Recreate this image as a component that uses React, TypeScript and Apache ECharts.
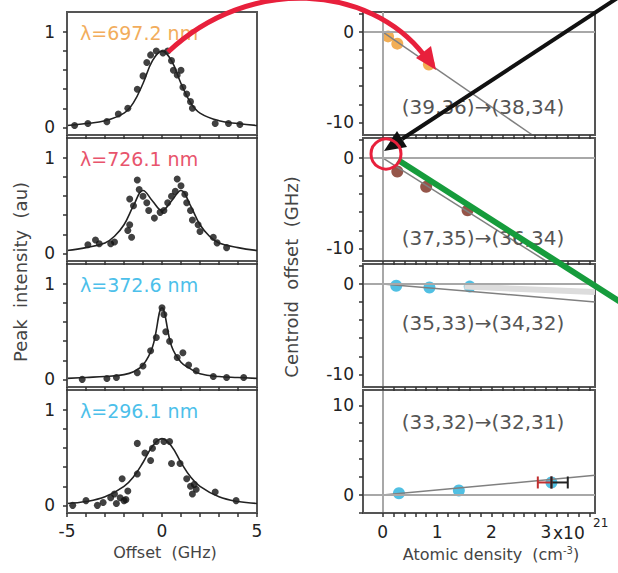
import React, { useEffect, useRef } from "react";
import * as echarts from "echarts";

// ---------- tick labels ----------
const offsetTicks = [-5, 0, 5];
const offsetMinorTicks = [-4, -3, -2, -1, 1, 2, 3, 4];
const intensityTicks = [0, 1];
const intensityMinorTicks = [0.2, 0.4, 0.6, 0.8];
const densityTicks = [0, 1, 2, 3];
const densityMinorTicks = [0.2, 0.4, 0.6, 0.8, 1.2, 1.4, 1.6, 1.8, 2.2, 2.4, 2.6, 2.8, 3.2, 3.4, 3.6, 3.8];
const centroidTicksNeg = [-10, 0];
const centroidTicksPos = [0, 10];
const centroidMinorNeg = [-8, -6, -4, -2, 2];
const centroidMinorPos = [-2, 2, 4, 6, 8];

// ---------- labels ----------
const lambdaLabels = ["λ=697.2 nm", "λ=726.1 nm", "λ=372.6 nm", "λ=296.1 nm"];
const lambdaColors = ["#f2ad5c", "#e8546c", "#4cc0ea", "#4cc0ea"];
const transitionLabels = ["(39,36)→(38,34)", "(37,35)→(36,34)", "(35,33)→(34,32)", "(33,32)→(32,31)"];

// ---------- left column: peak intensity vs offset ----------
const peak1Points = [[-4.6, 0.02], [-3.9, 0.04], [-2.9, 0.06], [-2.3, 0.14], [-1.8, 0.2], [-1.3, 0.4], [-1.0, 0.54], [-0.8, 0.68], [-0.6, 0.76], [-0.3, 0.8], [0.05, 0.78], [0.3, 0.8], [0.5, 0.7], [0.6, 0.6], [0.8, 0.55], [1.0, 0.6], [1.1, 0.42], [1.3, 0.35], [1.5, 0.27], [1.6, 0.2], [2.8, 0.04], [3.5, 0.04], [4.1, 0.03]];
const peak1Fit = [[-5, 0.02], [-4, 0.04], [-3, 0.07], [-2, 0.15], [-1.5, 0.26], [-1, 0.46], [-0.5, 0.7], [0, 0.8], [0.5, 0.7], [1, 0.46], [1.5, 0.26], [2, 0.15], [3, 0.07], [4, 0.04], [5, 0.02]];

const peak2Points = [[-3.9, 0.09], [-3.5, 0.14], [-3.3, 0.1], [-2.7, 0.1], [-2.5, 0.12], [-1.8, 0.24], [-1.7, 0.3], [-1.6, 0.17], [-1.7, 0.57], [-1.5, 0.5], [-1.3, 0.77], [-1.2, 0.67], [-1.0, 0.6], [-0.8, 0.53], [-0.7, 0.45], [-0.4, 0.37], [-0.1, 0.43], [0.1, 0.45], [0.3, 0.53], [0.5, 0.6], [0.7, 0.65], [0.8, 0.78], [1.0, 0.71], [1.2, 0.62], [1.3, 0.53], [1.5, 0.45], [1.6, 0.35], [1.9, 0.3], [2.0, 0.23], [2.7, 0.17], [2.9, 0.11], [3.4, 0.06]];
const peak2Fit = [[-5, 0.03], [-4, 0.06], [-3, 0.11], [-2.5, 0.18], [-2, 0.3], [-1.5, 0.5], [-1, 0.66], [-0.5, 0.55], [0, 0.45], [0.5, 0.55], [1, 0.66], [1.5, 0.5], [2, 0.3], [2.5, 0.18], [3, 0.11], [4, 0.06], [5, 0.03]];

const peak3Points = [[-4.2, 0.0], [-2.9, 0.01], [-2.4, 0.02], [-1.3, 0.07], [-1.0, 0.14], [-0.6, 0.3], [-0.3, 0.44], [0, 0.75], [0.1, 0.68], [0.2, 0.5], [0.4, 0.4], [0.8, 0.23], [1.1, 0.28], [1.4, 0.15], [1.8, 0.09], [2.7, 0.03], [3.4, 0.02], [4.3, 0.02]];
const peak3Fit = [[-5, 0.01], [-4, 0.02], [-3, 0.03], [-2, 0.05], [-1.5, 0.08], [-1, 0.15], [-0.5, 0.34], [0, 0.75], [0.5, 0.35], [1, 0.18], [1.5, 0.11], [2, 0.06], [3, 0.03], [4, 0.02], [5, 0.01]];

const peak4Points = [[-4.7, 0.0], [-4.0, 0.05], [-3.4, 0.0], [-3.1, 0.03], [-2.7, 0.08], [-2.5, 0.12], [-2.4, 0.02], [-2.2, 0.08], [-2.1, 0.28], [-2.0, 0.05], [-1.9, 0.06], [-1.8, 0.15], [-1.3, 0.33], [-1.3, 0.65], [-0.9, 0.55], [-0.6, 0.47], [-0.5, 0.6], [-0.3, 0.67], [0.1, 0.67], [0.4, 0.67], [0.5, 0.44], [0.95, 0.44], [1.3, 0.28], [1.5, 0.2], [1.6, 0.12], [1.7, 0.22], [1.8, 0.17], [2.8, 0.14], [3.9, 0.05]];
const peak4Fit = [[-5, 0.02], [-4, 0.04], [-3, 0.09], [-2, 0.2], [-1.5, 0.3], [-1, 0.45], [-0.5, 0.62], [0, 0.7], [0.5, 0.62], [1, 0.45], [1.5, 0.3], [2, 0.2], [3, 0.09], [4, 0.04], [5, 0.02]];

// ---------- right column: centroid offset vs atomic density ----------
const shift1Points = [[0.1, -0.5], [0.27, -1.3], [0.85, -3.6]];
const shift1Fit = [[0, 0], [2.75, -11.4]];
const shift2Points = [[0.27, -1.5], [0.8, -3.2], [1.56, -5.8]];
const shift2Fit = [[0, 0], [3.0, -11.4]];
const shift3Points = [[0.25, -0.2], [0.86, -0.4], [1.6, -0.3]];
const shift3Fit = [[0, 0], [3.9, -2.0]];
const shift3Band = [[1.5, -0.3], [3.9, -0.9]];
const shift4Points = [[0.3, 0.2], [1.4, 0.5], [3.1, 1.4]];
const shift4Fit = [[0, 0], [3.9, 2.2]];
const shift4ErrRed = [[2.85, 1.4], [3.1, 1.4]];
const shift4ErrBlack = [[3.1, 1.4], [3.4, 1.4]];
const shiftColors = ["#ef9a2a", "#7a2a1c", "#26b0dc", "#26b0dc"];

const FONT = "DejaVu Sans, Verdana, sans-serif";
const TOPS = [12, 138, 264, 390];
const H = 123;

function App() {
  const ref = useRef<HTMLDivElement>(null);
  useEffect(() => {
    if (!ref.current) return;
    const chart = echarts.init(ref.current, null, { renderer: "svg" });

    const grids: any[] = [];
    const xAxes: any[] = [];
    const yAxes: any[] = [];
    const series: any[] = [];

    const tickStyle = { show: true, inside: false, length: 4, lineStyle: { color: "#333", width: 1.5 } };
    const labelStyle = { fontFamily: FONT, fontSize: 17, color: "#222" };
    const frameLine = { show: true, onZero: false, lineStyle: { color: "#555", width: 2 } };

    const peakPts = [peak1Points, peak2Points, peak3Points, peak4Points];
    const peakFits = [peak1Fit, peak2Fit, peak3Fit, peak4Fit];
    const shiftPts = [shift1Points, shift2Points, shift3Points, shift4Points];
    const shiftFits = [shift1Fit, shift2Fit, shift3Fit, shift4Fit];

    // left column
    for (let i = 0; i < 4; i++) {
      const gi = grids.length;
      grids.push({ left: 67, top: TOPS[i], width: 190, height: H, show: true, borderColor: "#555", borderWidth: 2 });
      xAxes.push({
        type: "value", gridIndex: gi, min: -5, max: 5, position: "bottom", z: 10,
        axisLine: frameLine, splitLine: { show: false },
        axisTick: { ...tickStyle, customValues: [...offsetTicks, ...offsetMinorTicks] },
        axisLabel: { show: i === 3, customValues: offsetTicks, margin: 9, ...labelStyle },
      });
      yAxes.push({
        type: "value", gridIndex: gi, min: -0.08, max: 1.21, position: "left", z: 10,
        axisLine: frameLine, splitLine: { show: false },
        axisTick: { ...tickStyle, customValues: [...intensityTicks, ...intensityMinorTicks] },
        axisLabel: { customValues: intensityTicks, margin: 12, ...labelStyle },
      });
      series.push({
        type: "line", xAxisIndex: gi, yAxisIndex: gi, data: peakFits[i], smooth: 0.4,
        showSymbol: false, lineStyle: { color: "#222", width: 1.6 }, silent: true,
      });
      series.push({
        type: "scatter", xAxisIndex: gi, yAxisIndex: gi, data: peakPts[i],
        symbolSize: 7, itemStyle: { color: "#111" },
      });
    }

    // right column
    for (let i = 0; i < 4; i++) {
      const gi = grids.length;
      const pos = i === 3;
      grids.push({ left: 363, top: TOPS[i], width: 232, height: H, show: true, borderColor: "#555", borderWidth: 2 });
      xAxes.push({
        type: "value", gridIndex: gi, min: -0.36, max: 3.9, position: "bottom", z: 10,
        axisLine: frameLine, splitLine: { show: false },
        axisTick: { ...tickStyle, customValues: [...densityTicks, ...densityMinorTicks] },
        axisLabel: { show: i === 3, customValues: densityTicks, margin: 10, ...labelStyle },
      });
      yAxes.push({
        type: "value", gridIndex: gi, min: pos ? -2 : -11.4, max: pos ? 11.7 : 2.2, position: "left", z: 10,
        axisLine: frameLine, splitLine: { show: false },
        axisTick: { ...tickStyle, customValues: pos ? [...centroidTicksPos, ...centroidMinorPos] : [...centroidTicksNeg, ...centroidMinorNeg] },
        axisLabel: { customValues: pos ? centroidTicksPos : centroidTicksNeg, margin: 9, ...labelStyle },
      });
      if (i === 2) {
        series.push({
          type: "line", xAxisIndex: gi, yAxisIndex: gi, data: shift3Band,
          showSymbol: false, lineStyle: { color: "#dcdcdc", width: 6 }, silent: true,
        });
      }
      series.push({
        type: "line", xAxisIndex: gi, yAxisIndex: gi, data: shiftFits[i],
        showSymbol: false, lineStyle: { color: "#808080", width: 1.5 }, silent: true,
        markLine: {
          silent: true, symbol: "none", label: { show: false },
          lineStyle: { color: "#a8a8a8", width: 2, type: "solid" },
          data: [{ yAxis: 0 }, { xAxis: 0 }],
        },
      });
      if (i === 3) {
        series.push({
          type: "line", xAxisIndex: gi, yAxisIndex: gi, data: shift4ErrRed,
          symbol: "rect", symbolSize: [2, 12], showSymbol: true,
          lineStyle: { color: "#c03030", width: 2 }, itemStyle: { color: "#c03030" }, silent: true,
        });
        series.push({
          type: "line", xAxisIndex: gi, yAxisIndex: gi, data: shift4ErrBlack,
          symbol: "rect", symbolSize: [2, 12], showSymbol: true,
          lineStyle: { color: "#222", width: 2 }, itemStyle: { color: "#222" }, silent: true,
        });
      }
      series.push({
        type: "scatter", xAxisIndex: gi, yAxisIndex: gi, data: shiftPts[i],
        symbolSize: 12, itemStyle: { color: shiftColors[i] },
      });
    }

    const graphic: any[] = [];
    for (let i = 0; i < 4; i++) {
      graphic.push({
        type: "text", x: 80, y: TOPS[i] + 21, z: 50,
        style: { text: lambdaLabels[i], fill: lambdaColors[i], font: `19px ${FONT}`, textAlign: "left", textVerticalAlign: "middle" },
      });
      graphic.push({
        type: "text", x: 483, y: [107, 238, 323, 422][i], z: 50,
        style: { text: transitionLabels[i], fill: "#555", font: `20px ${FONT}`, textAlign: "center", textVerticalAlign: "middle" },
      });
    }
    graphic.push({
      type: "text", x: 20, y: 272, rotation: Math.PI / 2, z: 50,
      style: { text: "Peak  intensity  (au)", fill: "#444", font: `18px ${FONT}`, textAlign: "center", textVerticalAlign: "middle" },
    });
    graphic.push({
      type: "text", x: 291, y: 277, rotation: Math.PI / 2, z: 50,
      style: { text: "Centroid  offset  (GHz)", fill: "#444", font: `18px ${FONT}`, textAlign: "center", textVerticalAlign: "middle" },
    });
    graphic.push({
      type: "text", x: 165, y: 552, z: 50,
      style: { text: "Offset  (GHz)", fill: "#444", font: `16px ${FONT}`, textAlign: "center", textVerticalAlign: "middle" },
    });
    graphic.push({
      type: "text", x: 491, y: 554, z: 50,
      style: {
        text: "Atomic density  (cm{sup|-3})", fill: "#444", font: `16px ${FONT}`, textAlign: "center", textVerticalAlign: "middle",
        rich: { sup: { fontSize: 10, verticalAlign: "top", padding: [0, 0, 8, 0], fill: "#444", fontFamily: FONT } },
      },
    });
    graphic.push({
      type: "text", x: 553, y: 533, z: 50,
      style: { text: "x10", fill: "#222", font: `17px ${FONT}`, textAlign: "left", textVerticalAlign: "middle" },
    });
    graphic.push({
      type: "text", x: 593, y: 523, z: 50,
      style: { text: "21", fill: "#222", font: `12px ${FONT}`, textAlign: "left", textVerticalAlign: "middle" },
    });

    graphic.push({
      type: "bezierCurve", z: 60,
      shape: { x1: 168, y1: 52, x2: 424, y2: 55, cpx1: 250, cpy1: -25, cpx2: 370, cpy2: -15 },
      style: { stroke: "#e8203c", lineWidth: 5, fill: null },
    });
    graphic.push({
      type: "polygon", z: 61,
      shape: { points: [[436, 70], [416, 58], [431, 46]] },
      style: { fill: "#e8203c" },
    });
    graphic.push({
      type: "line", z: 60,
      shape: { x1: 622, y1: -5, x2: 402, y2: 139 },
      style: { stroke: "#111", lineWidth: 4 },
    });
    graphic.push({
      type: "polygon", z: 61,
      shape: { points: [[384, 151], [407, 147], [397, 131]] },
      style: { fill: "#111" },
    });
    graphic.push({
      type: "circle", z: 62,
      shape: { cx: 386, cy: 154, r: 15 },
      style: { stroke: "#e8203c", lineWidth: 3, fill: null },
    });
    graphic.push({
      type: "line", z: 60,
      shape: { x1: 398, y1: 160, x2: 625, y2: 305 },
      style: { stroke: "#169c3c", lineWidth: 6 },
    });

    chart.setOption({
      animation: false,
      backgroundColor: "#fff",
      grid: grids,
      xAxis: xAxes,
      yAxis: yAxes,
      series,
      graphic,
    });
    return () => chart.dispose();
  }, []);

  return (
    <div
      ref={ref}
      style={{ position: "absolute", left: 0, top: 0, width: 618, height: 573, background: "#fff" }}
    />
  );
}

export default App;
